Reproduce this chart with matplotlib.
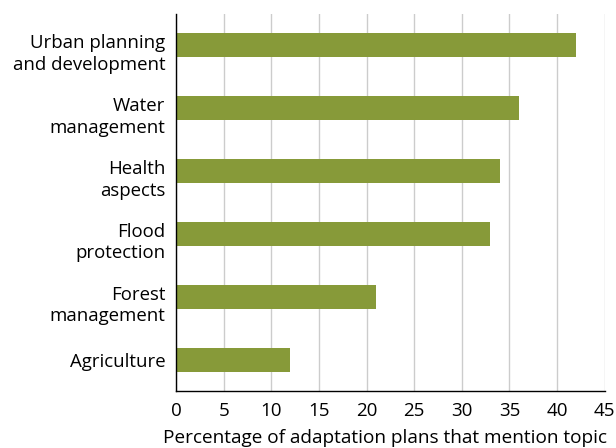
import matplotlib.pyplot as plt
from matplotlib.transforms import ScaledTranslation

plt.rcParams['font.family'] = ['Open Sans', 'DejaVu Sans']

topics = ['Urban planning\nand development', 'Water\nmanagement', 'Health\naspects',
          'Flood\nprotection', 'Forest\nmanagement', 'Agriculture']
shares = [42, 36, 34, 33, 21, 12]
xticks = [0, 5, 10, 15, 20, 25, 30, 35, 40, 45]

fig = plt.figure(figsize=(6.16, 4.48), dpi=100)
ax = fig.add_axes([0.2857, 0.127, 0.696, 0.842])

pos = list(range(len(topics)))[::-1]
ax.barh(pos, shares, height=0.38, color='#879a39', zorder=3)

ax.set_xlim(0, 45)
ax.set_ylim(-0.5, 5.5)
ax.set_xticks(xticks)
ax.set_yticks(pos)
ax.set_yticklabels(topics, fontsize=13.4, linespacing=1.25)
ax.tick_params(axis='x', labelsize=13.5, length=0, pad=8)
ax.tick_params(axis='y', length=0, pad=7.5)
ax.set_xlabel('Percentage of adaptation plans that mention topic', fontsize=13.7)
ax.xaxis.set_label_coords(0.487, -0.10)

# the two-line labels sit a little below the bar centre in the original
for lab in ax.get_yticklabels():
    if '\n' in lab.get_text():
        lab.set_transform(lab.get_transform() + ScaledTranslation(0, -5 / 100, fig.dpi_scale_trans))

ax.grid(axis='x', color='#cccccc', linewidth=1, zorder=0)
for s in ['top', 'right']:
    ax.spines[s].set_visible(False)
for s in ['left', 'bottom']:
    ax.spines[s].set_color('black')
    ax.spines[s].set_linewidth(1)
    ax.spines[s].set_zorder(4)

fig.savefig('out.png', dpi=100)
